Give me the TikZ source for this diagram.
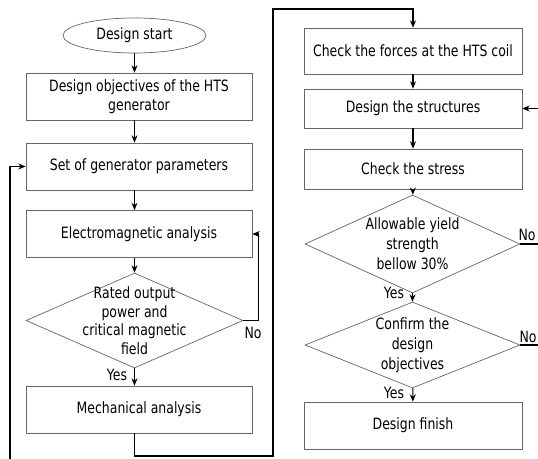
\documentclass[tikz,border=0pt]{standalone}
\usepackage{fontspec}
\setmainfont{DejaVu Sans}[FakeStretch=0.8]
\usetikzlibrary{arrows.meta,shapes.geometric}

\begin{document}
\begin{tikzpicture}[x=0.03cm,y=-0.03cm,
  every node/.style={font=\fontsize{13.3}{15.8}\selectfont},
  stepbox/.style={draw=black!60,line width=0.6pt,shape=rectangle,align=center,inner sep=0pt,minimum width=6.78cm,minimum height=1.41cm},
  rbox/.style={stepbox,minimum width=6.54cm},
  decision/.style={draw=black!60,line width=0.6pt,shape=diamond,inner sep=0pt,minimum width=6.51cm,minimum height=2.85cm},
  dtext/.style={align=center,inner sep=0pt},
  startstop/.style={draw=black!60,line width=0.6pt,shape=ellipse,inner sep=0pt,minimum width=4.29cm,minimum height=1.05cm},
  flow/.style={line width=0.9pt,-{Stealth[length=2.2mm,width=1.8mm]}},
  lbl/.style={inner sep=0pt}]
\useasboundingbox (0,0) rectangle (538,459);
\clip (0,0) rectangle (538,459);
% left column
\node[startstop] (start) at (134.5,35.5) {Design start};
\node[stepbox] (obj) at (139,96.5) {Design objectives of the HTS\\generator};
\node[stepbox] (param) at (139,166.5) {Set of generator parameters};
\node[stepbox] (em) at (139,234) {Electromagnetic analysis};
\node[decision] (crit) at (134.5,320.5) {};
\node[dtext] (crit-txt) at (crit) {Rated output\\power and\\critical magnetic\\field};
\node[stepbox] (mech) at (139,409.5) {Mechanical analysis};
% right column
\node[rbox,minimum height=1.38cm] (force) at (413,51) {Check the forces at the HTS coil};
\node[rbox,minimum height=1.17cm] (struct) at (413,108.5) {Design the structures};
\node[rbox,minimum height=1.2cm] (stress) at (413,169) {Check the stress};
\node[decision,minimum width=6.45cm,minimum height=2.94cm] (yield) at (412.5,244) {};
\node[dtext,font=\fontsize{13.3}{17.2}\selectfont] (yield-txt) at (yield) {Allowable yield\\strength\\bellow 30\%};
\node[decision,minimum width=6.45cm,minimum height=2.58cm] (confirm) at (412.5,345) {};
\node[dtext,font=\fontsize{13.3}{17.2}\selectfont] (confirm-txt) at (confirm) {Confirm the\\design\\objectives};
\node[rbox] (finish) at (413,425.5) {Design finish};
% yes / no labels
\node[lbl] (no1) at (253,333) {No};
\node[lbl] (yes1) at (117,375) {Yes};
\node[lbl] (no2) at (527,235) {No};
\node[lbl] (yes2) at (394,293) {Yes};
\node[lbl] (no3) at (528,337) {No};
\node[lbl] (yes3) at (394,393) {Yes};
% connectors
\draw[flow] (start) -- (obj.north -| start);
\draw[flow] (obj.south -| start) -- (param.north -| start);
\draw[flow] (param.south -| start) -- (em.north -| start);
\draw[flow] (em.south -| start) -- (crit);
\draw[flow] (crit) -- (mech.north -| crit);
\draw[flow] (crit.east) -- ++(15,0) |- (em.east);
\draw[flow] (mech.south -| crit) |- (273,456) |- (413,9) -- (force.north);
\draw[flow] (force) -- (struct);
\draw[flow] (struct) -- (stress);
\draw[flow] (stress) -- (yield);
\draw[flow] (yield) -- (confirm);
\draw[flow] (confirm) -- (finish);
\draw[flow] (yield.east) -- ++(23,0) |- (struct.east);
\draw[flow] (confirm.east) -- ++(28,0) |- (10,468) |- (param.west);
\end{tikzpicture}
\end{document}
